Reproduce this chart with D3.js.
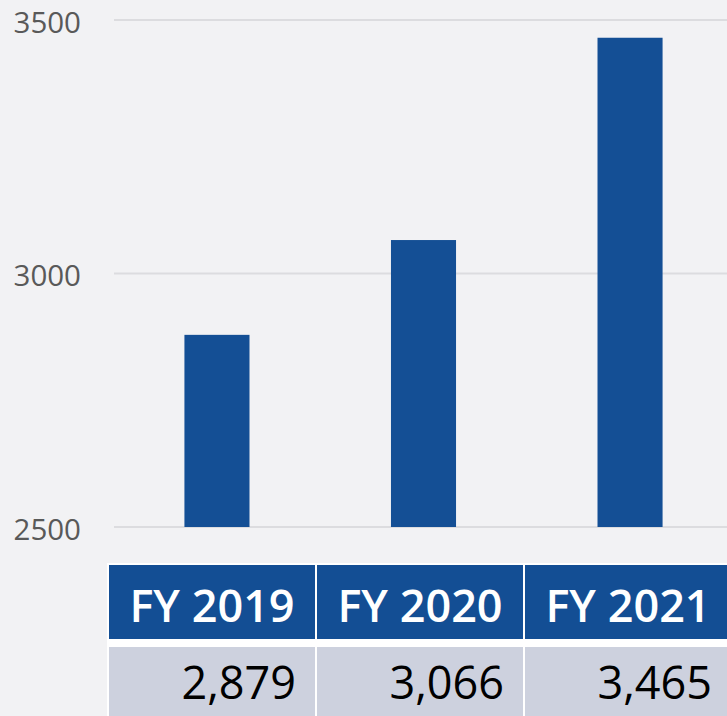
<!DOCTYPE html>
<html>
<head>
<meta charset="utf-8">
<script src="https://cdn.jsdelivr.net/npm/d3@7"></script>
<style>
  html, body { margin: 0; padding: 0; background: #f2f2f4; overflow: hidden; }
  svg { display: block; font-family: "Open Sans", "Noto Sans", sans-serif; }
</style>
</head>
<body>
<div id="canvas"></div>
<script>
"use strict"

/* Data */
let years = ["FY 2019", "FY 2020", "FY 2021"];
let values = [2879, 3066, 3465];
let valueLabels = ["2,879", "3,066", "3,465"];
let yTicks = [2500, 3000, 3500];

/* Drawing config */
let svgWidth = 727;
let svgHeight = 716;

let plotLeft = 114;
let plotRight = 733;
let plotTop = 20;
let plotBottom = 527;

let barColor = "#144f95";
let headColor = "#134e94";
let cellColor = "#cdd1de";

let svg = d3.select("#canvas")
    .append("svg")
    .attr("width", svgWidth)
    .attr("height", svgHeight);

svg.append("rect")
    .attr("width", svgWidth)
    .attr("height", svgHeight)
    .attr("fill", "#f2f2f4");

// scales
let xScale = d3.scaleBand()
    .domain(years)
    .range([plotLeft, plotRight])
    .paddingInner(0.685)
    .paddingOuter(0.341);

let yScale = d3.scaleLinear()
    .domain([2500, 3500])
    .range([plotBottom, plotTop]);

// gridlines
svg.selectAll("line.grid")
    .data(yTicks)
    .join("line")
    .attr("class", "grid")
    .attr("x1", plotLeft)
    .attr("x2", svgWidth)
    .attr("y1", d => yScale(d))
    .attr("y2", d => yScale(d))
    .attr("stroke", "#dcdcdf")
    .attr("stroke-width", 2);

// tick labels
svg.selectAll("text.tick")
    .data(yTicks)
    .join("text")
    .attr("class", "tick")
    .attr("x", 81)
    .attr("y", d => yScale(d) + 1)
    .attr("text-anchor", "end")
    .attr("dominant-baseline", "central")
    .attr("font-size", 29.5)
    .attr("fill", "#595959")
    .text(d => d);

// bars
svg.selectAll("rect.bar")
    .data(values)
    .join("rect")
    .attr("class", "bar")
    .attr("x", (d, i) => xScale(years[i]))
    .attr("y", d => yScale(d))
    .attr("width", xScale.bandwidth())
    .attr("height", d => plotBottom - yScale(d))
    .attr("fill", barColor);

/**** data table under the chart ****/
let tableLeft = 109;
let colStep = 208;
let colWidth = 206;
let headTop = 565;
let rowHeight = 74;
let valueTop = 647;

let colScale = d3.scaleBand()
    .domain(years)
    .range([tableLeft, tableLeft + colStep * years.length]);

svg.append("rect")
    .attr("x", 107)
    .attr("y", 563)
    .attr("width", svgWidth - 107)
    .attr("height", svgHeight - 563)
    .attr("fill", "white");

svg.selectAll("rect.head")
    .data(years)
    .join("rect")
    .attr("class", "head")
    .attr("x", d => colScale(d))
    .attr("y", headTop)
    .attr("width", colWidth)
    .attr("height", rowHeight)
    .attr("fill", headColor);

svg.selectAll("text.head")
    .data(years)
    .join("text")
    .attr("class", "head")
    .attr("x", d => colScale(d) + colWidth / 2)
    .attr("y", 622)
    .attr("text-anchor", "middle")
    .attr("font-size", 45)
    .attr("font-weight", 600)
    .attr("fill", "white")
    .text(d => d);

svg.selectAll("rect.cell")
    .data(years)
    .join("rect")
    .attr("class", "cell")
    .attr("x", d => colScale(d))
    .attr("y", valueTop)
    .attr("width", colWidth)
    .attr("height", rowHeight)
    .attr("fill", cellColor);

svg.selectAll("text.cell")
    .data(valueLabels)
    .join("text")
    .attr("class", "cell")
    .attr("x", (d, i) => colScale(years[i]) + colWidth - 19)
    .attr("y", 699)
    .attr("text-anchor", "end")
    .attr("font-size", 45)
    .attr("fill", "black")
    .text(d => d);
</script>
</body>
</html>
